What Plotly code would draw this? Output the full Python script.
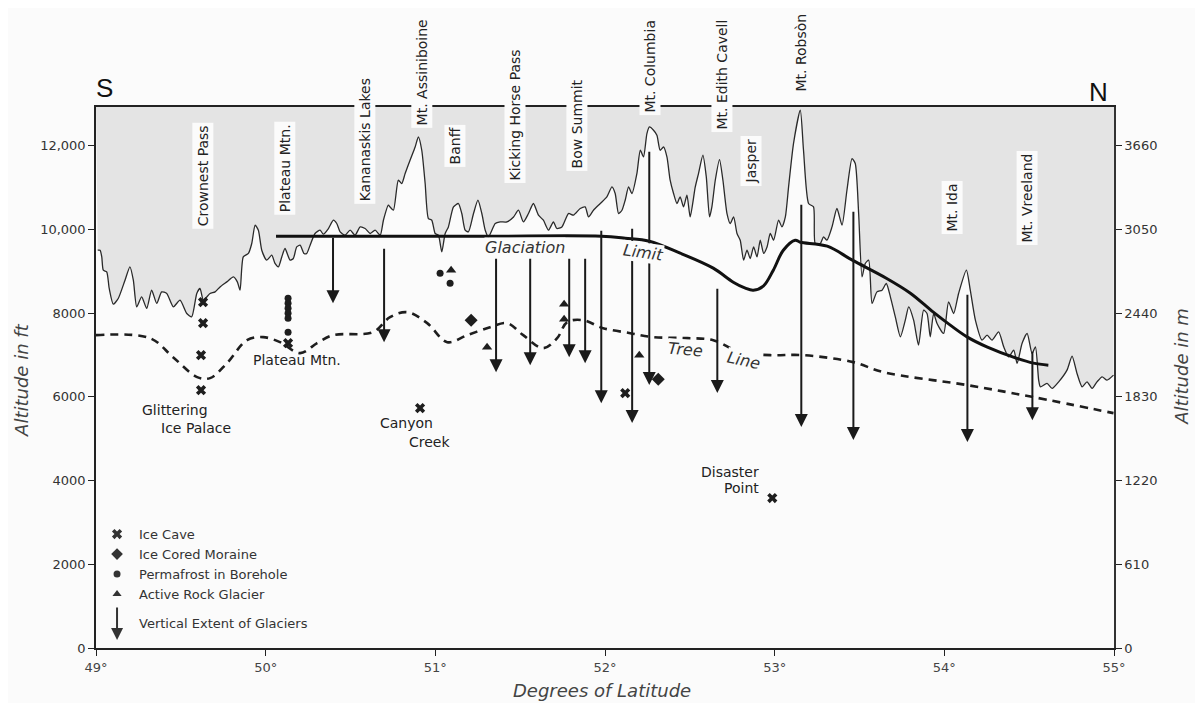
import plotly.graph_objects as go

# ---------------- data (latitude in degrees, altitude in ft) ----------------
profile_lat = [49.010, 49.024, 49.034, 49.043, 49.063, 49.078, 49.102, 49.131, 49.171, 49.200,
               49.220, 49.240, 49.269, 49.299, 49.328, 49.358, 49.387, 49.417, 49.456, 49.495,
               49.535, 49.564, 49.594, 49.613, 49.633, 49.672, 49.702, 49.731, 49.771, 49.810,
               49.833, 49.849, 49.868, 49.898, 49.918, 49.938, 49.957, 49.977, 50.006, 50.036,
               50.055, 50.075, 50.095, 50.114, 50.144, 50.163, 50.183, 50.203, 50.226, 50.242,
               50.262, 50.291, 50.321, 50.340, 50.370, 50.399, 50.419, 50.439, 50.468, 50.498,
               50.527, 50.557, 50.586, 50.616, 50.645, 50.675, 50.694, 50.723, 50.733, 50.753,
               50.782, 50.802, 50.822, 50.851, 50.881, 50.900, 50.920, 50.940, 50.959, 50.979,
               50.999, 51.018, 51.038, 51.058, 51.077, 51.107, 51.136, 51.156, 51.176, 51.195,
               51.225, 51.251, 51.274, 51.294, 51.313, 51.353, 51.382, 51.422, 51.461, 51.490,
               51.519, 51.549, 51.578, 51.608, 51.637, 51.667, 51.696, 51.716, 51.746, 51.785,
               51.814, 51.854, 51.883, 51.903, 51.932, 51.972, 52.011, 52.041, 52.060, 52.080,
               52.100, 52.119, 52.139, 52.159, 52.188, 52.208, 52.227, 52.247, 52.262, 52.286,
               52.306, 52.325, 52.345, 52.365, 52.384, 52.404, 52.424, 52.443, 52.463, 52.483,
               52.502, 52.532, 52.551, 52.577, 52.597, 52.616, 52.630, 52.650, 52.675, 52.695,
               52.719, 52.738, 52.758, 52.778, 52.797, 52.817, 52.837, 52.856, 52.876, 52.896,
               52.915, 52.935, 52.955, 52.974, 52.994, 53.023, 53.043, 53.063, 53.082, 53.111,
               53.151, 53.170, 53.200, 53.229, 53.239, 53.269, 53.288, 53.308, 53.338, 53.367,
               53.397, 53.426, 53.456, 53.475, 53.495, 53.515, 53.534, 53.554, 53.574, 53.603,
               53.633, 53.658, 53.682, 53.711, 53.741, 53.770, 53.790, 53.819, 53.848, 53.878,
               53.898, 53.917, 53.937, 53.957, 53.996, 54.025, 54.055, 54.084, 54.130, 54.153,
               54.183, 54.222, 54.252, 54.281, 54.320, 54.350, 54.379, 54.409, 54.429, 54.458,
               54.488, 54.517, 54.537, 54.556, 54.566, 54.605, 54.635, 54.674, 54.723, 54.753,
               54.782, 54.812, 54.841, 54.871, 54.900, 54.930, 54.959, 54.997]
profile_ft = [9500, 9500, 9340, 9023, 8982, 8586, 8211, 8347, 8784, 9102,
              8784, 8147, 8386, 8109, 8545, 8228, 8505, 8467, 8147, 8307,
              7989, 7908, 8467, 8586, 8307, 8467, 8505, 8624, 8744, 8863,
              8744, 8545, 9340, 9422, 9660, 10097, 9978, 9500, 9262, 9381,
              9183, 9102, 9340, 9541, 9262, 9302, 9579, 9620, 9422, 9422,
              9620, 9899, 9978, 9882, 10018, 10216, 10138, 9937, 9858, 9978,
              9858, 10056, 10018, 9899, 9978, 9858, 10216, 10574, 10534, 10455,
              11171, 11092, 11331, 11649, 11966, 12205, 11887, 11092, 10257, 10216,
              9899, 9858, 9460, 9899, 10056, 10534, 10615, 10376, 9978, 9937,
              10376, 10694, 10376, 9978, 9818, 10138, 10176, 10176, 10295, 10455,
              10176, 10376, 10615, 10336, 10216, 9978, 10176, 10018, 10056, 10376,
              10336, 10496, 10534, 10295, 10455, 10615, 10773, 11011, 10854, 10376,
              10455, 10694, 11011, 10854, 11331, 11887, 11727, 12286, 12443, 12365,
              12245, 11887, 11966, 11727, 11171, 10854, 10615, 10773, 10534, 10813,
              10295, 11011, 11331, 11768, 11250, 10295, 10534, 11171, 11665, 11171,
              10376, 10138, 10295, 9899, 9739, 9262, 9500, 9302, 9579, 9340,
              9739, 9422, 9579, 9899, 9739, 10216, 10056, 10295, 11011, 12047,
              12842, 11887, 10615, 10534, 9660, 9660, 9818, 9739, 10056, 10496,
              10097, 10932, 11689, 11570, 10376, 8863, 9183, 9262, 8228, 8505,
              8545, 8705, 8386, 7908, 7431, 7829, 8147, 7829, 7233, 8068,
              7989, 7431, 7989, 7751, 7512, 8266, 7989, 8467, 9023, 8545,
              7829, 7352, 7471, 7352, 7550, 7192, 6953, 7113, 6796, 7273,
              7512, 7034, 7192, 6397, 6237, 6318, 6199, 6357, 6636, 6970,
              6557, 6237, 6357, 6199, 6357, 6476, 6397, 6517]

glaciation_lat = [50.061, 50.60, 51.30, 51.978, 52.119, 52.261, 52.443, 52.638, 52.756, 52.827,
                  52.874, 52.933, 52.992, 53.051, 53.121, 53.151, 53.310, 53.458, 53.658, 53.800,
                  53.935, 54.035, 54.136, 54.254, 54.407, 54.525, 54.613]
glaciation_ft = [9834, 9834, 9834, 9834, 9787, 9715, 9429, 9071, 8736, 8593,
                 8545, 8641, 9023, 9500, 9739, 9691, 9596, 9262, 8832, 8474,
                 8020, 7710, 7424, 7185, 6946, 6803, 6755]

treeline_lat = [49.000, 49.318, 49.454, 49.596, 49.672, 49.772, 49.890, 49.985, 50.085, 50.203,
                50.303, 50.397, 50.633, 50.733, 50.834, 50.952, 51.070, 51.188, 51.323, 51.423,
                51.518, 51.636, 51.718, 51.777, 51.871, 51.989, 52.149, 52.284, 52.485, 52.638,
                52.797, 52.974, 53.169, 53.463, 53.640, 54.136, 54.525, 54.997]
treeline_ft = [7471, 7400, 6946, 6469, 6445, 6803, 7352, 7424, 7304, 7042,
               7280, 7471, 7543, 7901, 8020, 7758, 7304, 7471, 7662, 7758,
               7471, 7161, 7400, 7782, 7829, 7638, 7519, 7424, 7400, 7352,
               7066, 6994, 6994, 6827, 6588, 6278, 5991, 5609]

# vertical extent of glaciers: latitude, upper end, lower end (ft)
glacier_lat = [50.397, 50.698, 51.358, 51.559, 51.789, 51.883, 51.978, 52.160, 52.261, 52.662,
               53.157, 53.464, 54.136, 54.519]
glacier_top = [9834, 9572, 9333, 9333, 9333, 9333, 10002, 10049, 11887, 8617,
               10622, 10455, 8474, 7113]
glacier_bottom = [8235, 7304, 6588, 6755, 6946, 6803, 5848, 5371, 6278, 6087,
                  5275, 4965, 4917, 5442]

icecave_lat = [49.631, 49.631, 49.619, 49.619, 50.132, 50.910, 52.119, 52.986]
icecave_ft = [8259, 7758, 6994, 6158, 7280, 5729, 6087, 3581]
moraine_lat = [51.211, 52.314]
moraine_ft = [7829, 6421]
permafrost_lat = [50.132, 50.132, 50.132, 50.132, 50.132, 50.132, 51.028, 51.087]
permafrost_ft = [8355, 8235, 8116, 7997, 7877, 7543, 8951, 8713]
rockglacier_lat = [51.093, 51.305, 51.759, 51.759, 52.202]
rockglacier_ft = [9023, 7185, 8211, 7853, 6994]

place_names = ["Crownest Pass", "Plateau Mtn.", "Kananaskis Lakes", "Mt. Assiniboine", "Banff",
               "Kicking Horse Pass", "Bow Summit", "Mt. Columbia", "Mt. Edith Cavell", "Jasper",
               "Mt. Robsòn", "Mt. Ida", "Mt. Vreeland"]
place_lat = [49.631, 50.114, 50.586, 50.922, 51.117, 51.471, 51.836, 52.267, 52.691, 52.862,
             53.157, 54.047, 54.489]
place_ft = [11267, 11458, 12126, 13749, 11983, 12723, 12508, 13892, 13701, 11625,
            14227, 10527, 10742]

ft_ticks = [0, 2000, 4000, 6000, 8000, 10000, 12000]
ft_ticktext = ["0", "2000", "4000", "6000", "8000", "10,000", "12,000"]
m_ticktext = ["0", "610", "1220", "1830", "2440", "3050", "3660"]
lat_ticks = [49, 50, 51, 52, 53, 54, 55]
lat_ticktext = ["49°", "50°", "51°", "52°", "53°", "54°", "55°"]

legend_labels = ["Ice Cave", "Ice Cored Moraine", "Permafrost in Borehole", "Active Rock Glacier",
                 "Vertical Extent of Glaciers"]

TOP = 12920
FONT = "DejaVu Sans, Liberation Sans, sans-serif"
INK = "#1e1e1e"
BG = "#fbfbfb"

fig = go.Figure()

# shaded area above the profile
fig.add_trace(go.Scatter(x=profile_lat, y=profile_ft, mode="lines",
                         line=dict(width=0, color=INK, shape="spline", smoothing=0.6),
                         hoverinfo="skip", showlegend=False))
fig.add_trace(go.Scatter(x=[49, 55], y=[TOP, TOP], mode="lines", line=dict(width=0),
                         fill="tonexty", fillcolor="#e4e4e4", hoverinfo="skip", showlegend=False))
# profile line
fig.add_trace(go.Scatter(x=profile_lat, y=profile_ft, mode="lines",
                         line=dict(width=1.3, color="#2a2a2a", shape="spline", smoothing=0.6),
                         showlegend=False))
# tree line
fig.add_trace(go.Scatter(x=treeline_lat, y=treeline_ft, mode="lines",
                         line=dict(width=2.6, color=INK, dash="8px,6px", shape="spline", smoothing=1.0),
                         showlegend=False))
# glaciation limit
fig.add_trace(go.Scatter(x=glaciation_lat, y=glaciation_ft, mode="lines",
                         line=dict(width=3, color="#111111", shape="spline", smoothing=1.0),
                         showlegend=False))

# point symbols
fig.add_trace(go.Scatter(x=icecave_lat, y=icecave_ft, mode="markers",
                         marker=dict(symbol="x", size=9, color=INK), showlegend=False))
fig.add_trace(go.Scatter(x=moraine_lat, y=moraine_ft, mode="markers",
                         marker=dict(symbol="diamond", size=10, color=INK), showlegend=False))
fig.add_trace(go.Scatter(x=permafrost_lat, y=permafrost_ft, mode="markers",
                         marker=dict(symbol="circle", size=7, color=INK), showlegend=False))
fig.add_trace(go.Scatter(x=rockglacier_lat, y=rockglacier_ft, mode="markers",
                         marker=dict(symbol="triangle-up", size=9, color=INK), showlegend=False))

# legend key symbols
key_lat = 49.124
key_ft = [2721, 2244, 1766, 1289]
key_sym = ["x", "diamond", "circle", "triangle-up"]
key_size = [9, 9, 7, 8]
for kf, ks, kz in zip(key_ft, key_sym, key_size):
    fig.add_trace(go.Scatter(x=[key_lat], y=[kf], mode="markers",
                             marker=dict(symbol=ks, size=kz, color="#333333"), showlegend=False))

# invisible trace for the right (metre) axis
fig.add_trace(go.Scatter(x=[49], y=[0], yaxis="y2", mode="markers",
                         marker=dict(opacity=0), hoverinfo="skip", showlegend=False))

ann = []
# glacier arrows
for la, tp, bt in zip(glacier_lat, glacier_top, glacier_bottom):
    ann.append(dict(x=la, y=bt, ax=la, ay=tp, xref="x", yref="y", axref="x", ayref="y",
                    text="", showarrow=True, arrowhead=2, arrowsize=1.3, arrowwidth=2,
                    arrowcolor="#1a1a1a", standoff=0, startstandoff=0))
# legend arrow
ann.append(dict(x=key_lat, y=191, ax=key_lat, ay=1003, xref="x", yref="y", axref="x", ayref="y",
                text="", showarrow=True, arrowhead=2, arrowsize=1.2, arrowwidth=2,
                arrowcolor="#333333", standoff=0))

# place names along top (paper y so that labels above the frame stay visible)
for nm, la, ft in zip(place_names, place_lat, place_ft):
    ann.append(dict(x=la, y=ft / TOP, xref="x", yref="paper", xanchor="center", yanchor="middle",
                    text=nm, textangle=-90, showarrow=False,
                    font=dict(family=FONT, size=14, color="#222222"),
                    bgcolor=BG, borderpad=2))

# site labels
site_text = ["Glittering", "Ice Palace", "Plateau Mtn.", "Canyon", "Creek", "Disaster", "Point"]
site_lat = [49.466, 49.590, 50.185, 50.828, 50.963, 52.738, 52.803]
site_ft = [5681, 5251, 6875, 5371, 4917, 4201, 3819]
for t, la, ft in zip(site_text, site_lat, site_ft):
    ann.append(dict(x=la, y=ft, xref="x", yref="y", xanchor="center", yanchor="middle",
                    text=t, showarrow=False, font=dict(family=FONT, size=14, color="#222222")))

# line labels (italic)
line_text = ["Glaciation", "Limit", "Tree", "Line"]
line_lat = [51.529, 52.225, 52.473, 52.821]
line_ft = [9572, 9453, 7137, 6875]
line_angle = [0, 8, 5, 12]
for t, la, ft, an in zip(line_text, line_lat, line_ft, line_angle):
    ann.append(dict(x=la, y=ft, xref="x", yref="y", xanchor="center", yanchor="middle",
                    text="<i>" + t + "</i>", showarrow=False,
                    textangle=an, font=dict(family=FONT, size=16, color="#333333"),
                    bgcolor=BG, borderpad=0))

# legend texts
legend_ft = [2721, 2244, 1766, 1289, 597]
for t, ft in zip(legend_labels, legend_ft):
    ann.append(dict(x=49.242, y=ft, xref="x", yref="y", text=t, showarrow=False,
                    xanchor="left", yanchor="middle",
                    font=dict(family=FONT, size=13, color="#333333")))

# compass letters
ann.append(dict(x=49.053, y=13367 / TOP, xref="x", yref="paper", xanchor="center",
                yanchor="middle", text="S", showarrow=False,
                font=dict(family="Liberation Sans, Arial, sans-serif", size=26, color="#111111")))
ann.append(dict(x=54.908, y=13272 / TOP, xref="x", yref="paper", xanchor="center",
                yanchor="middle", text="N", showarrow=False,
                font=dict(family="Liberation Sans, Arial, sans-serif", size=26, color="#111111")))

# axis titles
ann.append(dict(x=-0.073, y=0.495, xref="paper", yref="paper", xanchor="center",
                yanchor="middle", text="<i>Altitude in ft</i>", textangle=-90, showarrow=False,
                font=dict(family=FONT, size=18, color="#444444")))
ann.append(dict(x=1.066, y=0.52, xref="paper", yref="paper", xanchor="center",
                yanchor="middle", text="<i>Altitude in m</i>", textangle=-90, showarrow=False,
                font=dict(family=FONT, size=18, color="#444444")))
ann.append(dict(x=0.497, y=-0.078, xref="paper", yref="paper", xanchor="center",
                yanchor="middle", text="<i>Degrees of Latitude</i>", showarrow=False,
                font=dict(family=FONT, size=18, color="#444444")))

# page has an 8px body margin: figure sized so that the frame lands where the original has it
fig.update_layout(
    width=1187, height=695,
    margin=dict(l=88, r=81, t=99, b=55),
    paper_bgcolor=BG, plot_bgcolor=BG,
    showlegend=False,
    annotations=ann,
    xaxis=dict(range=[49, 55], tickvals=lat_ticks, ticktext=lat_ticktext, showgrid=False,
               zeroline=False, showline=True, linecolor="#222222", linewidth=2, mirror=True,
               ticks="outside", ticklen=6, tickcolor="#222222",
               tickfont=dict(family=FONT, size=13, color="#444444")),
    yaxis=dict(range=[0, TOP], tickvals=ft_ticks, ticktext=ft_ticktext, showgrid=False,
               zeroline=False, showline=True, linecolor="#222222", linewidth=1.5,
               ticks="outside", ticklen=6, tickcolor="#222222",
               tickfont=dict(family=FONT, size=13, color="#333333")),
    yaxis2=dict(range=[0, TOP], overlaying="y", side="right", tickvals=ft_ticks,
                ticktext=m_ticktext, showgrid=False, zeroline=False, showline=True,
                linecolor="#333333", linewidth=1.5, ticks="outside", ticklen=6,
                tickcolor="#222222", tickfont=dict(family=FONT, size=13, color="#333333")),
)

fig.write_html("out.html")
